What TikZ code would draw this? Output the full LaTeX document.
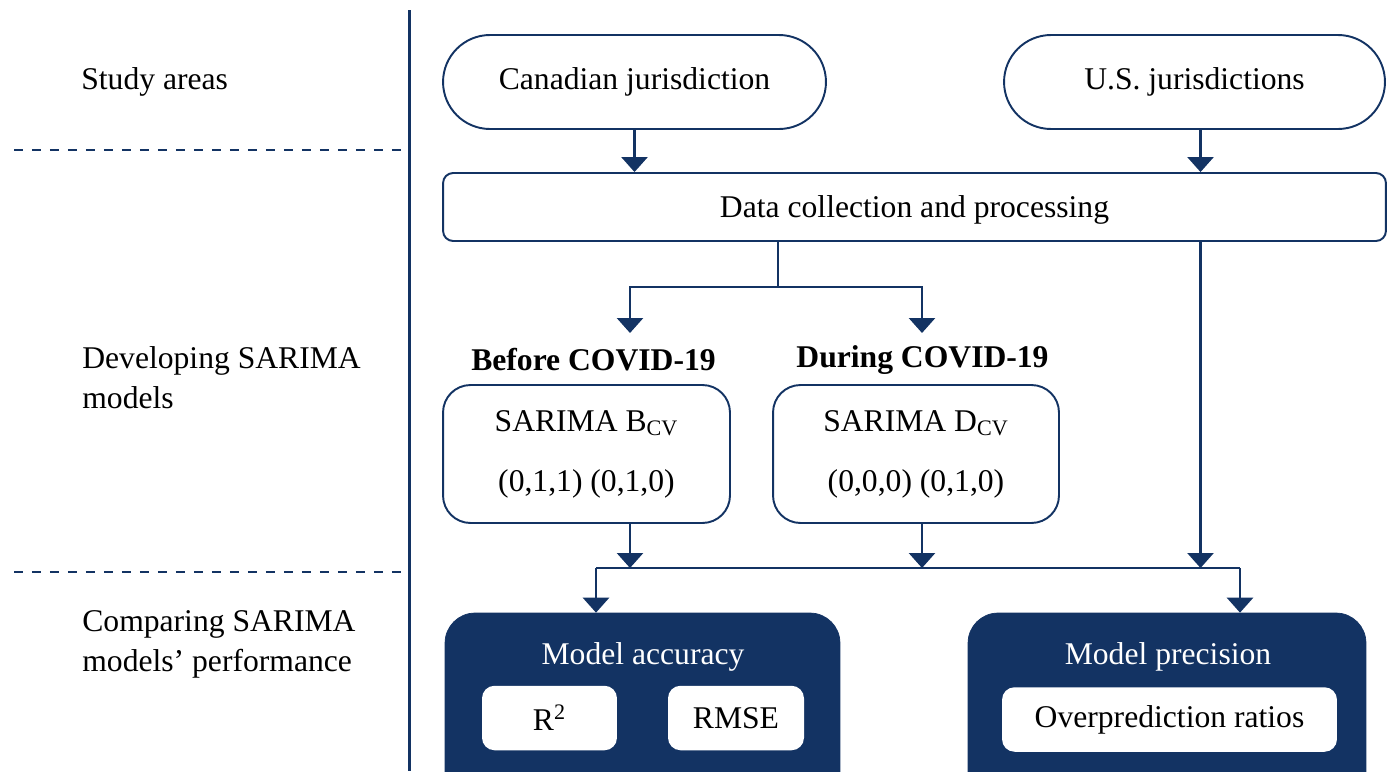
\documentclass[tikz,border=0pt]{standalone}
\usepackage{fontspec}
\setmainfont{Liberation Serif}
\usetikzlibrary{arrows.meta, calc, positioning}
\definecolor{navy}{RGB}{19,51,99}
\tikzset{%
    sep/.style={line width = 1.7pt, draw=navy},
    dsh/.style={line width = 1.5pt, draw=navy, dash pattern=on 0.19cm off 0.17cm},
    lin/.style={line width = 1.6pt, draw=navy},
    arr/.style={line width = 1.6pt, draw=navy, -{Triangle[width=0.52cm, length=0.3cm]}},
    txt/.style={font=\fontsize{18}{22.8}\selectfont, inner sep=0pt},
    lab/.style={txt, anchor=west, align=left},
    stad/.style={txt, draw=navy, line width=1.1pt, rounded corners=0.94cm, minimum height=1.88cm},
    box/.style={txt, draw=navy, line width=1.1pt, rounded corners=0.2cm, text depth=0pt},
    sar/.style={txt, draw=navy, line width=1.1pt, rounded corners=0.55cm, align=center, minimum height=2.76cm},
    dark/.style={txt, draw=navy, fill=navy, rounded corners=0.6cm, minimum height=4.4cm},
    wbox/.style={txt, fill=white, rounded corners=0.25cm, minimum height=1.29cm},
}
\begin{document}
\begin{tikzpicture}[x=0.02cm, y=-0.02cm]
    \clip (0,0) rectangle (1395,771);
    % left column
    \draw [sep](409,10) -- (409,771);
    \draw [dsh](14,150) -- (409,150) (14,572) -- (409,572);
    \node [lab] (sa) at (81,82) {Study areas};
    \node [lab] (dev) at (82,378) {Developing SARIMA\\models};
    \node [lab] (cmp) at (82,644) {Comparing SARIMA\\models' performance};
    % study areas and data
    \node [stad, minimum width=7.66cm] (can) at (634.5,82) {Canadian jurisdiction};
    \node [stad, minimum width=7.62cm] (us) at (1194.5,82) {U.S. jurisdictions};
    \node [box, minimum width=18.86cm, minimum height=1.36cm] (dat) at (914.5,207) {Data collection and processing};
    \draw [arr](can.south) -- (can.south |- dat.north);
    \draw [arr]([xshift=0.12cm]us.south) -- ([xshift=0.12cm]us.south |- dat.north);
    % SARIMA models
    \coordinate (split) at (778,287);
    \coordinate (bin) at (630,333);
    \coordinate (din) at (922,333);
    \node [txt, font=\fontsize{18}{22.8}\selectfont\bfseries] (bef) at (593.5,360) {Before COVID-19};
    \node [txt, font=\fontsize{18}{22.8}\selectfont\bfseries] (dur) at (922.5,360) {During COVID-19};
    \node [sar, minimum width=5.74cm] (sarb) at (586.5,454) {SARIMA B\textsubscript{CV}\\[11.3pt](0,1,1) (0,1,0)};
    \node [sar, minimum width=5.72cm] (sard) at (916,454) {SARIMA D\textsubscript{CV}\\[11.3pt](0,0,0) (0,1,0)};
    \draw [lin](split |- dat.south) -- (split);
    \draw [arr](split) -| (bin);
    \draw [arr](split) -| (din);
    % performance
    \coordinate (ml) at (596,568);
    \coordinate (mr) at (1240,568);
    \node [dark, minimum width=7.9cm] (acc) at (642.5,723) {};
    \node [dark, minimum width=7.96cm] (prec) at (1167,723) {};
    \node [txt, text=white] (acct) at (643,657) {Model accuracy};
    \node [txt, text=white] (prect) at (1168,657) {Model precision};
    \node [wbox, minimum width=2.7cm] (rsq) at (549.5,718) {R\textsuperscript{2}};
    \node [wbox, minimum width=2.72cm] (rmse) at (736,718) {RMSE};
    \node [wbox, minimum width=6.7cm] (ovr) at (1169.5,719.5) {Overprediction ratios};
    \draw [arr](sarb.south -| bin) -- (bin |- ml);
    \draw [arr](sard.south -| din) -- (din |- ml);
    \draw [arr]([xshift=0.12cm]us.south |- dat.south) -- ([xshift=0.12cm]us.south |- ml);
    \draw [lin](ml) -- (mr);
    \draw [arr](ml) -- (ml |- acc.north);
    \draw [arr](mr) -- (mr |- prec.north);
\end{tikzpicture}
\end{document}
